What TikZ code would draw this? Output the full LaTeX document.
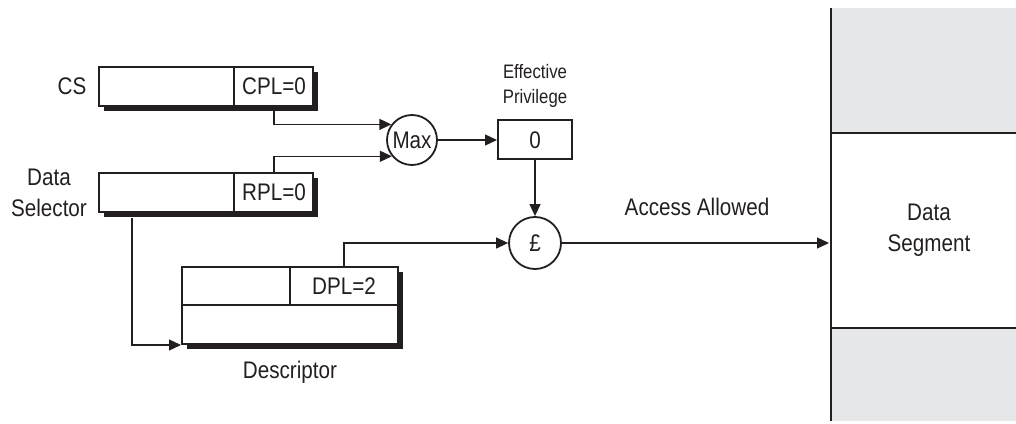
\documentclass[tikz,border=0pt]{standalone}
\usepackage{fontspec}
\setmainfont{Liberation Sans}[FakeStretch=0.86]
\usetikzlibrary{arrows.meta,calc,shadows}
\definecolor{seggray}{HTML}{E6E7E8}
\definecolor{ink}{HTML}{231F20}
\begin{document}
\begin{tikzpicture}[x=1pt,y=1pt,
  every node/.style={text=ink, font=\fontsize{24}{31}\selectfont},
  conn/.style={draw=ink, line width=1.3pt, -{Triangle[length=12pt,width=11pt]}},
  divider/.style={draw=ink, line width=1.2pt},
  regbox/.style={draw=ink, line width=2pt, fill=white, inner sep=0pt,
    drop shadow={shadow xshift=5pt, shadow yshift=-5pt, fill=ink, opacity=1}},
  opcircle/.style={circle, draw=ink, line width=1.8pt, fill=white, inner sep=0pt, minimum size=50pt},
  lbl/.style={align=center, inner sep=0pt},
  small/.style={font=\fontsize{19.5}{25}\selectfont}
]
\useasboundingbox (0,0) rectangle (1016,423);

% Data segment
\fill[seggray] (831,415) rectangle (1016,290);
\fill[seggray] (831,95) rectangle (1016,2);
\coordinate (segtop) at (831,415);
\coordinate (segbot) at (831,2);
\draw[ink, line width=2pt] (segtop) -- (segbot);
\draw[ink, line width=2pt] (831,290) -- (1016,290);
\draw[ink, line width=2pt] (831,95) -- (1016,95);
\node[lbl] (seglbl) at (929,193) {Data\\Segment};

% CS register
\node[regbox, minimum width=214pt, minimum height=39pt] (cs) at (206,336.5) {};
\draw[divider] ($(cs.north west)+(136,0)$) -- ($(cs.south west)+(136,0)$);
\node[lbl] (cpl) at (274,336.5) {CPL=0};
\node[lbl] (cslbl) at (72,336.5) {CS};

% Data selector
\node[regbox, minimum width=214pt, minimum height=39pt] (ds) at (206,230.5) {};
\draw[divider] ($(ds.north west)+(136,0)$) -- ($(ds.south west)+(136,0)$);
\node[lbl] (rpl) at (274,230.5) {RPL=0};
\node[lbl] (dslbl) at (49,230) {Data\\Selector};

% Descriptor
\node[regbox, minimum width=216pt, minimum height=77pt] (desc) at (290,117.5) {};
\draw[divider] (desc.west |- 0,118) -- (desc.east |- 0,118);
\draw[divider] (desc.north) -- (290,118);
\node[lbl] (dpl) at (344,137) {DPL=2};
\node[lbl] (desclbl) at (290,51) {Descriptor};

% Max and effective privilege
\node[opcircle] (max) at (412,283) {Max};
\node[draw=ink, line width=2pt, minimum width=74pt, minimum height=39pt, inner sep=0pt] (eff) at (535,283) {0};
\node[lbl, small] (efflbl) at (535,337) {Effective\\Privilege};

% Compare
\node[opcircle, minimum size=52pt] (pound) at (535,180) {£};
\node[lbl] (acc) at (697,216) {Access Allowed};

% connectors
\draw[conn] (cpl.center |- cs.south) |- (max.143);
\draw[conn] (rpl.center |- ds.north) |- (max.219);
\draw[conn] (max.east) -- (eff.west);
\draw[conn] (eff.south) -- (pound.north);
\draw[conn] (dpl.center |- desc.north) |- (pound.west);
\draw[conn] ($(ds.south west)+(34,-5)$) |- (desc.south west);
\draw[conn, shorten >=2pt] (pound.east) -- (pound.east -| segtop);
\end{tikzpicture}
\end{document}
